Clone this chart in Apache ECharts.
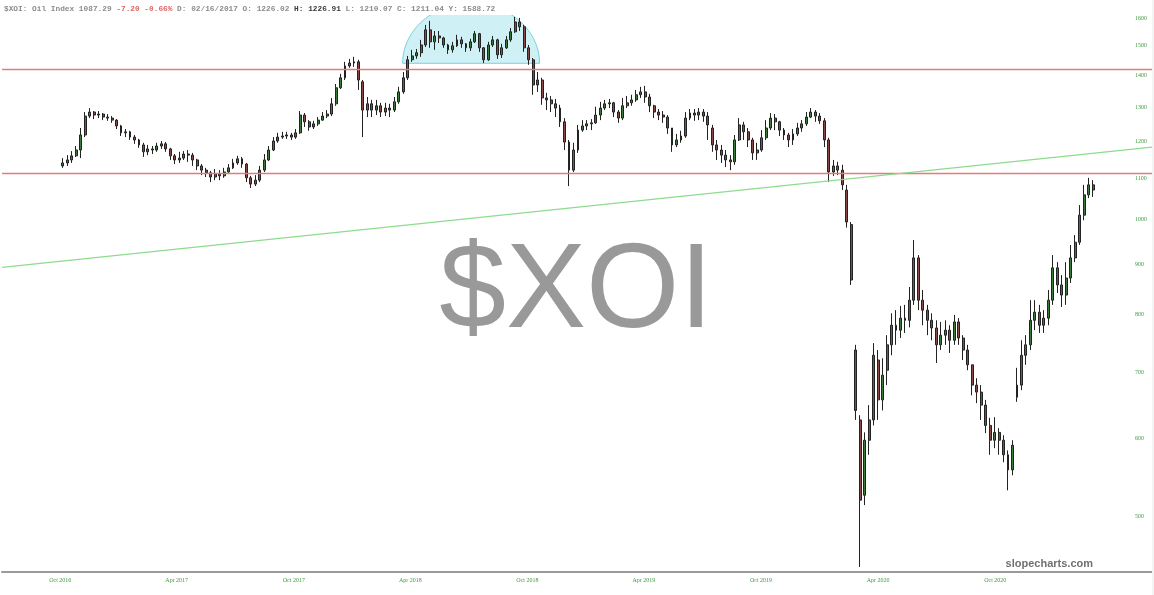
<!DOCTYPE html>
<html>
<head>
<meta charset="utf-8">
<script src="https://cdn.jsdelivr.net/npm/echarts@6/dist/echarts.min.js"></script>
<style>
html,body{margin:0;padding:0;background:#f4f4f4;}
#chart{position:absolute;left:0;top:0;width:1152px;height:595px;background:#ffffff;}
</style>
</head>
<body>
<div id="chart"></div>
<script>
// ---- data (weekly candles) ----
const firstWeek = '2016-10-05';
const opens = [
1133,1141,1149,1160,1176,1218,1273,1285,1276,1279,
1270,1267,1261,1244,1224,1227,1212,1204,1190,1171,
1179,1176,1187,1193,1179,1160,1149,1154,1165,1162,
1149,1133,1122,1115,1104,1112,1107,1117,1128,1141,
1152,1138,1102,1086,1096,1122,1149,1176,1201,1212,
1215,1218,1212,1224,1276,1256,1241,1250,1261,1273,
1279,1310,1360,1392,1431,1441,1445,1379,1291,1310,
1291,1304,1285,1297,1291,1316,1347,1392,1452,1465,
1476,1503,1557,1514,1535,1528,1503,1486,1500,1521,
1507,1493,1514,1543,1493,1452,1503,1521,1469,1493,
1521,1550,1586,1568,1493,1452,1369,1385,1328,1322,
1310,1297,1256,1198,1122,1176,1232,1244,1250,1253,
1276,1297,1310,1313,1285,1267,1304,1313,1322,1338,
1347,1331,1304,1285,1276,1270,1238,1190,1204,1215,
1267,1282,1276,1285,1273,1238,1190,1176,1162,1149,
1144,1204,1247,1227,1204,1168,1176,1210,1238,1267,
1256,1232,1218,1204,1221,1238,1250,1270,1285,1273,
1259,1204,1117,1133,1122,1071,988,737,626,525,
597,626,720,656,703,746,781,772,794,790,
828,914,828,809,790,776,746,763,772,754,
787,758,737,712,679,668,648,618,597,608,
597,577,557,660,679,728,746,790,805,781,
794,828,893,858,838,872,914,948,1010,1059,
1084];
const closes = [
1141,1149,1160,1176,1218,1273,1285,1276,1279,1270,
1267,1261,1244,1224,1227,1212,1204,1190,1171,1179,
1176,1187,1193,1179,1160,1149,1154,1165,1162,1149,
1133,1122,1115,1104,1112,1107,1117,1128,1141,1152,
1138,1102,1086,1096,1122,1149,1176,1201,1212,1215,
1218,1212,1224,1276,1256,1241,1250,1261,1273,1279,
1310,1360,1392,1431,1441,1445,1385,1291,1310,1291,
1304,1285,1297,1291,1316,1347,1392,1452,1465,1476,
1503,1557,1514,1535,1528,1503,1486,1500,1521,1507,
1493,1514,1543,1493,1452,1503,1521,1469,1493,1521,
1550,1586,1568,1493,1452,1369,1385,1328,1322,1310,
1297,1256,1198,1122,1176,1232,1244,1250,1253,1276,
1297,1310,1313,1285,1267,1304,1313,1322,1338,1347,
1331,1304,1285,1276,1270,1238,1190,1204,1215,1267,
1282,1276,1285,1273,1247,1190,1176,1162,1149,1144,
1204,1247,1227,1204,1168,1176,1210,1238,1267,1256,
1232,1218,1204,1221,1238,1250,1270,1285,1273,1259,
1204,1117,1133,1122,1084,994,868,640,519,597,
626,728,656,695,746,781,772,794,790,828,
914,828,809,790,776,746,763,772,754,787,
758,737,712,679,668,648,618,597,608,597,
577,557,590,679,728,746,790,805,781,794,
828,893,858,838,872,914,948,1010,1059,1084,
1071];
const lows = [
1128,1133,1141,1157,1154,1212,1267,1264,1267,1261,
1259,1253,1235,1215,1212,1204,1193,1182,1157,1162,
1165,1171,1179,1171,1149,1138,1141,1149,1144,1133,
1122,1109,1104,1091,1096,1096,1102,1115,1125,1136,
1128,1091,1076,1081,1091,1117,1146,1173,1196,1207,
1207,1204,1207,1221,1241,1230,1235,1244,1259,1267,
1273,1304,1356,1385,1425,1428,1353,1212,1270,1270,
1276,1270,1273,1270,1285,1310,1341,1385,1445,1455,
1462,1496,1493,1486,1510,1493,1472,1476,1496,1493,
1479,1482,1510,1479,1441,1448,1496,1455,1458,1489,
1514,1546,1553,1479,1435,1338,1347,1307,1291,1285,
1270,1241,1176,1081,1117,1168,1227,1232,1232,1250,
1261,1291,1297,1270,1253,1261,1297,1304,1316,1328,
1313,1285,1267,1261,1253,1221,1171,1184,1196,1210,
1261,1259,1261,1256,1204,1171,1149,1141,1130,1122,
1136,1201,1204,1184,1149,1149,1171,1204,1232,1232,
1215,1204,1184,1190,1215,1227,1244,1267,1256,1250,
1184,1091,1107,1109,1071,981,858,626,444,513,
577,618,626,640,679,728,746,758,767,777,
819,809,781,763,754,715,737,746,732,746,
746,720,703,663,651,626,607,577,586,577,
567,531,550,653,671,712,737,772,767,767,
781,819,842,815,819,862,905,942,998,1051,
1054];
const highs = [
1154,1162,1173,1187,1238,1285,1297,1288,1288,1282,
1279,1273,1264,1247,1235,1230,1218,1207,1196,1190,
1187,1196,1201,1198,1182,1165,1171,1173,1176,1168,
1152,1138,1128,1120,1125,1122,1128,1138,1152,1160,
1157,1141,1107,1109,1133,1165,1187,1212,1224,1227,
1227,1224,1235,1288,1282,1261,1259,1270,1285,1291,
1328,1372,1405,1445,1455,1462,1452,1385,1331,1322,
1322,1313,1313,1310,1331,1363,1411,1465,1486,1489,
1521,1575,1590,1553,1553,1532,1507,1514,1539,1532,
1510,1525,1553,1546,1496,1514,1535,1525,1507,1535,
1564,1605,1601,1575,1503,1458,1411,1392,1344,1334,
1325,1307,1267,1204,1196,1247,1261,1261,1264,1301,
1316,1322,1325,1316,1291,1328,1334,1338,1353,1363,
1366,1341,1307,1294,1288,1276,1238,1221,1230,1285,
1294,1294,1297,1294,1285,1247,1204,1190,1176,1162,
1218,1267,1256,1238,1210,1196,1232,1261,1282,1279,
1259,1238,1224,1235,1253,1261,1285,1297,1291,1282,
1267,1210,1149,1144,1136,1084,994,746,633,608,
648,749,737,723,763,803,809,817,819,854,
953,920,848,819,803,790,787,790,781,800,
794,763,746,712,690,679,656,629,630,614,
604,583,597,707,754,763,828,828,819,809,
848,920,905,878,905,942,964,1034,1084,1102,
1096];

const yTickLabels = [500, 600, 700, 800, 900, 1000, 1100, 1200, 1300, 1400, 1500, 1600];
const xTickDates = ['2016-10-01','2017-04-01','2017-10-01','2018-04-01','2018-10-01',
                    '2019-04-01','2019-10-01','2020-04-01','2020-10-01'];
const monthNames = ['Jan','Feb','Mar','Apr','May','Jun','Jul','Aug','Sep','Oct','Nov','Dec'];
const resistanceLevels = [1420, 1113.5];
const trendStart = ['2016-07-02', 894];
const trendEnd = ['2021-06-03', 1184];
const domeSpan = ['2018-03-20', '2018-10-20'];
const domeBase = 1440;
const domeApex = 1657;
const xRange = ['2016-07-02', '2021-06-03'];
const yRange = [438.8, 1612];

// ---- build ----
function ts(s) { const p = s.split('-').map(Number); return Date.UTC(p[0], p[1] - 1, p[2]); }
const DAY = 86400000;
const t0 = ts(firstWeek);
const candles = opens.map((o, i) => [t0 + i * 7 * DAY, o, closes[i], lows[i], highs[i]]);

const chart = echarts.init(document.getElementById('chart'), null, {renderer: 'canvas'});

const option = {
  animation: false,
  backgroundColor: '#ffffff',
  title: {
    left: 4, top: 5, padding: 0,
    text: '{g|$XOI: Oil Index 1087.29 }{r|-7.20 -0.66%}{g| D: 02/16/2017 O: 1226.02 }{b|H: 1226.91}{g| L: 1210.07 C: 1211.04 Y: 1588.72}',
    textStyle: {
      rich: {
        g: {fontFamily: 'Liberation Mono', fontSize: 7.8, color: '#8c8c8c'},
        r: {fontFamily: 'Liberation Mono', fontSize: 7.8, color: '#e06464'},
        b: {fontFamily: 'Liberation Mono', fontSize: 7.8, color: '#3a3a3a', fontWeight: 'bold'}
      }
    }
  },
  graphic: [
    {type: 'text', left: 'center', top: 234, z: 0, silent: true,
     style: {text: '$XOI', font: '120px "Liberation Sans"', fill: '#999999'}},
    {type: 'text', right: 59, top: 558, z: 10, silent: true,
     style: {text: 'slopecharts.com', font: 'bold 11px "Liberation Sans"', fill: '#717171'}}
  ],
  grid: {left: 2, right: 0, top: 15, bottom: 23, containLabel: false, outerBoundsMode: 'none'},
  xAxis: {
    type: 'value',
    min: ts(xRange[0]), max: ts(xRange[1]),
    axisLine: {show: true, lineStyle: {color: '#9a9a9a', width: 2}},
    axisTick: {show: false},
    splitLine: {show: false},
    axisLabel: {
      customValues: xTickDates.map(ts),
      margin: 5,
      fontFamily: 'Liberation Serif', fontSize: 6, color: '#3f9a3f',
      formatter: function (v) { const d = new Date(v); return monthNames[d.getUTCMonth()] + ' ' + d.getUTCFullYear(); }
    }
  },
  yAxis: {
    type: 'log', logBase: 10, position: 'right',
    min: yRange[0], max: yRange[1],
    axisLine: {show: false},
    axisTick: {show: false},
    splitLine: {show: false},
    axisLabel: {
      customValues: yTickLabels,
      inside: false, margin: -17,
      fontFamily: 'Liberation Serif', fontSize: 6, color: '#3f9a3f',
      formatter: function (v) { return String(Math.round(v)); }
    }
  },
  series: [
    {
      type: 'custom', name: 'dome', clip: true, z: 1, silent: true,
      encode: {x: [0, 1], y: [2, 3]},
      data: [[ts(domeSpan[0]), ts(domeSpan[1]), domeBase, domeApex]],
      renderItem: function (params, api) {
        const a = api.coord([api.value(0), api.value(2)]);
        const b = api.coord([api.value(1), api.value(2)]);
        const top = api.coord([(api.value(0) + api.value(1)) / 2, api.value(3)]);
        const cx = (a[0] + b[0]) / 2, rx = (b[0] - a[0]) / 2, ry = a[1] - top[1];
        const pts = [];
        for (let k = 0; k <= 60; k++) {
          const t = Math.PI * k / 60;
          pts.push([cx - rx * Math.cos(t), a[1] - ry * Math.sin(t)]);
        }
        return {type: 'polygon', shape: {points: pts},
                style: {fill: 'rgba(130,218,230,0.38)', stroke: '#7ad2dc', lineWidth: 1}};
      }
    },
    {
      type: 'candlestick', name: '$XOI', z: 3,
      barWidth: 2.4,
      data: candles,
      itemStyle: {color: '#3b7a3b', color0: '#874848', borderColor: '#222222', borderColor0: '#222222', borderWidth: 1},
      markLine: {
        silent: true, symbol: 'none', animation: false,
        label: {show: false},
        data: [
          {yAxis: resistanceLevels[0], lineStyle: {color: '#e27c7c', width: 1.3, type: 'solid'}},
          {yAxis: resistanceLevels[1], lineStyle: {color: '#e27c7c', width: 1.3, type: 'solid'}},
          [{coord: [ts(trendStart[0]), trendStart[1]], lineStyle: {color: '#8ddc8d', width: 1.2, type: 'solid'}},
           {coord: [ts(trendEnd[0]), trendEnd[1]]}]
        ]
      }
    }
  ]
};
chart.setOption(option);
</script>
</body>
</html>
